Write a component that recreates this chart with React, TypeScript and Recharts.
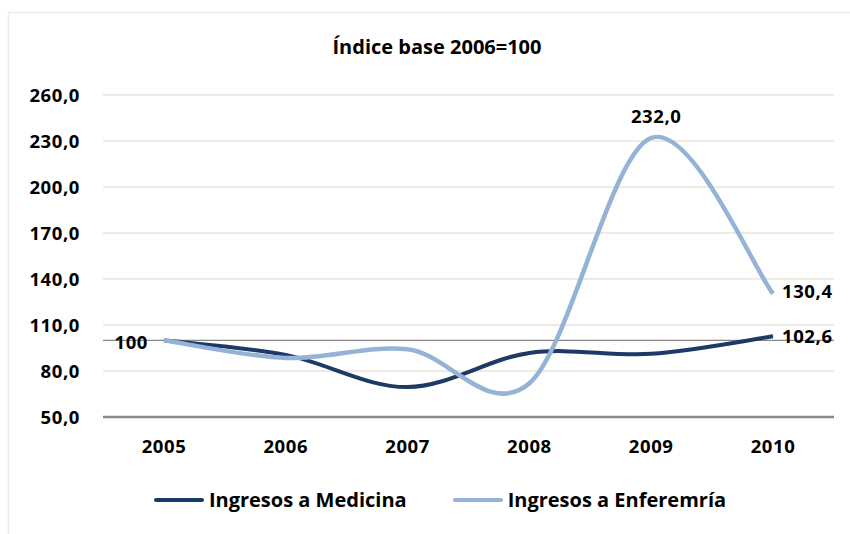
import React from 'react';
import { LineChart, Line, XAxis, YAxis, CartesianGrid, ReferenceLine, Legend } from 'recharts';

// Índice base 2006=100
const years = ['2005', '2006', '2007', '2008', '2009', '2010'];
const medicina = [100, 90.5, 69.5, 91.8, 91.2, 102.6];
const enfermeria = [100, 88.5, 94.2, 72, 232, 130.4];
const yTicks = [50, 80, 110, 140, 170, 200, 230, 260];
const medicinaLabelled = [0, 5];
const enfermeriaLabelled = [4, 5];

const series = [
  { key: 'medicina', name: 'Ingresos a Medicina', color: '#1b3a66', width: 4 },
  { key: 'enfermeria', name: 'Ingresos a Enferemría', color: '#95b3d7', width: 4.5 },
];

const FONT = '"Open Sans", "Noto Sans", sans-serif';

const data = years.map((year, i) => ({ year, medicina: medicina[i], enfermeria: enfermeria[i] }));

// Excel-like smoothing (Catmull-Rom as cubic Beziers)
const excelSmooth = (context: any) => {
  let xs: number[] = [];
  let ys: number[] = [];
  return {
    areaStart() {},
    areaEnd() {},
    lineStart() {
      xs = [];
      ys = [];
    },
    point(x: number, y: number) {
      xs.push(+x);
      ys.push(+y);
    },
    lineEnd() {
      const n = xs.length;
      if (!n) return;
      context.moveTo(xs[0], ys[0]);
      for (let i = 0; i < n - 1; i++) {
        const p = Math.max(i - 1, 0);
        const q = Math.min(i + 2, n - 1);
        context.bezierCurveTo(
          xs[i] + (xs[i + 1] - xs[p]) / 6,
          ys[i] + (ys[i + 1] - ys[p]) / 6,
          xs[i + 1] - (xs[q] - xs[i]) / 6,
          ys[i + 1] - (ys[q] - ys[i]) / 6,
          xs[i + 1],
          ys[i + 1]
        );
      }
    },
  };
};

const fmt = (v: number, i: number) => (i === 0 ? v.toFixed(0) : v.toFixed(1).replace('.', ','));

const makeLabel = (shown: number[], isTopSeries: boolean) => (props: any) => {
  const { x, y, index, value } = props;
  if (!shown.includes(index)) return null;
  let tx = x + 9;
  let ty = y;
  let anchor: 'start' | 'middle' | 'end' = 'start';
  if (index === 0) {
    tx = x - 16;
    ty = y + 2;
    anchor = 'end';
  } else if (isTopSeries && index === 4) {
    tx = x + 5;
    ty = y - 22;
    anchor = 'middle';
  } else if (isTopSeries) {
    ty = y - 2;
  }
  return (
    <text
      key={`lbl-${index}`}
      x={tx}
      y={ty}
      dy="0.36em"
      textAnchor={anchor}
      fontFamily={FONT}
      fontWeight={700}
      fontSize={18.5}
      letterSpacing={0.6}
      fill="#000"
    >
      {fmt(value, index)}
    </text>
  );
};

const LegendContent = () => (
  <div style={{ display: 'flex', justifyContent: 'center', gap: 46, fontFamily: FONT, fontWeight: 700, fontSize: 20, paddingLeft: 30 }}>
    {series.map(s => (
      <div key={s.key} style={{ display: 'flex', alignItems: 'center' }}>
        <span style={{ display: 'inline-block', width: 50, height: 4, background: s.color, marginRight: 5, borderRadius: 2 }} />
        <span style={{ color: '#000' }}>{s.name}</span>
      </div>
    ))}
  </div>
);

export default function App() {
  return (
    <div style={{ position: 'absolute', left: 0, top: 0, width: 850, height: 534, background: '#fff' }}>
      <svg width={850} height={534} style={{ position: 'absolute', left: 0, top: 0 }}>
        <rect x={8.5} y={12.5} width={870} height={540} fill="none" stroke="#eeece1" strokeWidth={1.5} />
        <text x={437} y={47} dy="0.36em" textAnchor="middle" fontFamily={FONT} fontWeight={700} fontSize={20} fill="#000">
          Índice base 2006=100
        </text>
      </svg>
      <LineChart
        width={850}
        height={534}
        data={data}
        margin={{ top: 95, right: 16, bottom: 0, left: 0 }}
        style={{ position: 'absolute', left: 0, top: 0 }}
      >
        <CartesianGrid vertical={false} stroke="#eeece1" strokeWidth={2} />
        <XAxis
          dataKey="year"
          height={117}
          padding={{ left: 61, right: 61 }}
          tickLine={false}
          axisLine={{ stroke: '#898989', strokeWidth: 2.5 }}
          tickMargin={17}
          tick={{ fontFamily: FONT, fontWeight: 700, fontSize: 18.5, fill: '#000', letterSpacing: 0.6 }}
          interval={0}
        />
        <YAxis
          type="number"
          domain={[50, 260]}
          ticks={yTicks}
          width={103}
          axisLine={false}
          tickLine={false}
          tickMargin={17}
          tickFormatter={(v: number) => v.toFixed(1).replace('.', ',')}
          tick={{ fontFamily: FONT, fontWeight: 700, fontSize: 18.5, fill: '#000', letterSpacing: 0.6 }}
          interval={0}
        />
        <ReferenceLine y={100} stroke="#878787" strokeWidth={1.2} />
        <Line
          dataKey="medicina"
          name={series[0].name}
          type={excelSmooth as any}
          stroke={series[0].color}
          strokeWidth={series[0].width}
          dot={false}
          activeDot={false}
          isAnimationActive={false}
          label={makeLabel(medicinaLabelled, false)}
        />
        <Line
          dataKey="enfermeria"
          name={series[1].name}
          type={excelSmooth as any}
          stroke={series[1].color}
          strokeWidth={series[1].width}
          dot={false}
          activeDot={false}
          isAnimationActive={false}
          label={makeLabel(enfermeriaLabelled, true)}
        />
        <Legend
          layout="horizontal"
          verticalAlign="middle"
          align="center"
          content={<LegendContent />}
          wrapperStyle={{ top: 486, left: 0, width: 850 }}
        />
      </LineChart>
    </div>
  );
}
